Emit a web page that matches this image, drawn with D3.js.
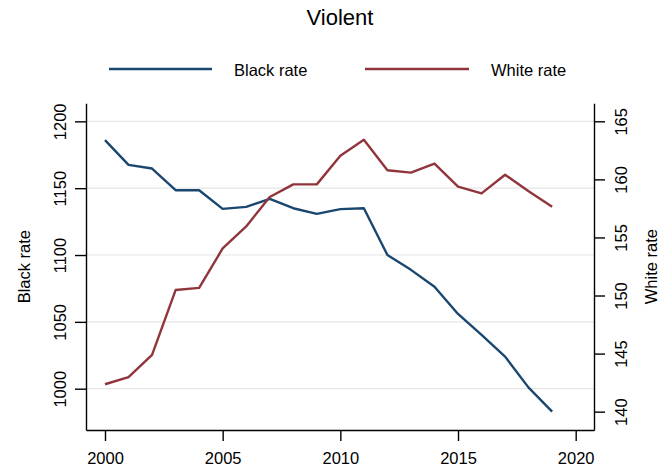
<!DOCTYPE html>
<html><head><meta charset="utf-8">
<script src="https://cdn.jsdelivr.net/npm/d3@7"></script>
<style>
html,body{margin:0;padding:0;background:#fff;}
svg{display:block;font-family:"Liberation Sans",Arial,sans-serif;}
</style></head>
<body>
<svg id="chart" width="661" height="469"></svg>
<script>
const years = [2000,2001,2002,2003,2004,2005,2006,2007,2008,2009,2010,2011,2012,2013,2014,2015,2016,2017,2018,2019];
const blackRate = [1186,1167.4,1164.7,1148.5,1148.5,1134.5,1136,1142,1135,1130.8,1134.3,1135,1100,1088.9,1076.3,1055.9,1040.2,1024,1000.8,982.8];
const whiteRate = [142.36,142.97,144.89,150.47,150.66,154.05,155.95,158.48,159.57,159.57,162.04,163.42,160.78,160.58,161.35,159.37,158.79,160.4,158.97,157.65];
const xTicks = [2000,2005,2010,2015,2020];
const leftTicks = [1000,1050,1100,1150,1200];
const rightTicks = [140,145,150,155,160,165];
const seriesNames = ["Black rate","White rate"];
const colors = ["#1a476f","#90353b"];
const titleText = "Violent";

const svg = d3.select("#chart");
const L = 86, R = 594, T = 103.3, B = 430;
const x = d3.scaleLinear().domain([1999.193, 2020.778]).range([L, R]);
const yL = d3.scaleLinear().domain([969.1, 1213.5]).range([B, T]);
const yR = d3.scaleLinear().domain([138.42, 166.55]).range([B, T]);
const fs = "16.5px";

// gridlines
svg.append("g").selectAll("line").data(leftTicks).join("line")
  .attr("x1", L).attr("x2", R).attr("y1", d => yL(d)).attr("y2", d => yL(d))
  .attr("stroke", "#e6e6e6").attr("stroke-width", 1.2);

// lines
const lineB = d3.line().x((d,i) => x(years[i])).y(d => yL(d));
const lineW = d3.line().x((d,i) => x(years[i])).y(d => yR(d));
svg.append("path").attr("d", lineB(blackRate)).attr("fill","none").attr("stroke",colors[0]).attr("stroke-width",2.4).attr("stroke-linejoin","round");
svg.append("path").attr("d", lineW(whiteRate)).attr("fill","none").attr("stroke",colors[1]).attr("stroke-width",2.4).attr("stroke-linejoin","round");

// axes
const ax = svg.append("g").attr("transform", `translate(0,${B})`)
  .call(d3.axisBottom(x).tickValues(xTicks).tickFormat(d3.format("d")).tickSize(11).tickPadding(8).tickSizeOuter(0));
const axL = svg.append("g").attr("transform", `translate(${L},0)`)
  .call(d3.axisLeft(yL).tickValues(leftTicks).tickFormat(d3.format("d")).tickSize(11).tickSizeOuter(0));
const axR = svg.append("g").attr("transform", `translate(${R},0)`)
  .call(d3.axisRight(yR).tickValues(rightTicks).tickFormat(d3.format("d")).tickSize(11).tickSizeOuter(0));
[ax, axL, axR].forEach(g => {
  g.selectAll("path.domain").attr("stroke","#000").attr("stroke-width",1.4);
  g.selectAll(".tick line").attr("stroke","#000").attr("stroke-width",1.4);
  g.selectAll("text").attr("fill","#000").style("font-size", fs).style("font-family","'Liberation Sans',Arial,sans-serif");
});
ax.selectAll("text").attr("dy","0.9em");
axL.selectAll(".tick text").attr("x", null).attr("dy", null)
  .attr("text-anchor","middle").attr("transform","translate(-20,0) rotate(-90)");
axR.selectAll(".tick text").attr("x", null).attr("dy", null)
  .attr("text-anchor","middle").attr("transform","translate(33,0) rotate(-90)");

// axis titles
svg.append("text").attr("transform", `translate(30,${(T+B)/2}) rotate(-90)`)
  .attr("text-anchor","middle").style("font-size", fs).text(seriesNames[0]);
svg.append("text").attr("transform", `translate(657,${(T+B)/2}) rotate(-90)`)
  .attr("text-anchor","middle").style("font-size", fs).text(seriesNames[1]);

// title
svg.append("text").attr("x", (L+R)/2).attr("y", 25).attr("text-anchor","middle")
  .style("font-size","22px").text(titleText);

// legend
const leg = [{x1:109,x2:212,tx:234},{x1:365,x2:469,tx:491}];
leg.forEach((p,i) => {
  svg.append("line").attr("x1",p.x1).attr("x2",p.x2).attr("y1",69).attr("y2",69)
    .attr("stroke",colors[i]).attr("stroke-width",2.4);
  svg.append("text").attr("x",p.tx).attr("y",76).style("font-size",fs).text(seriesNames[i]);
});
</script>
</body></html>
